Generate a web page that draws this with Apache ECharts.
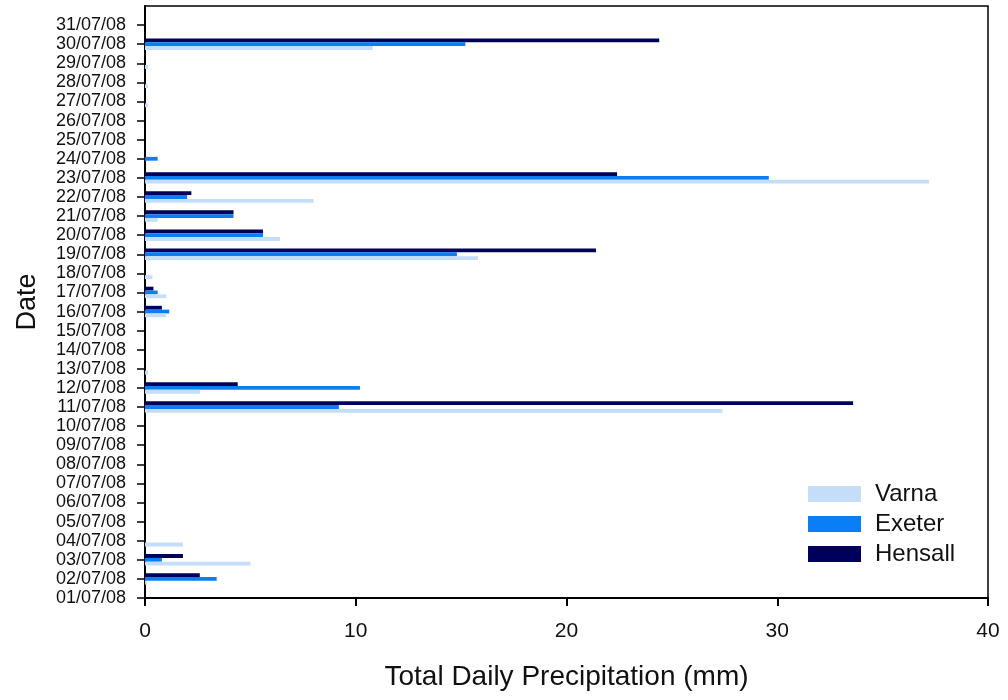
<!DOCTYPE html>
<html>
<head>
<meta charset="utf-8">
<script src="https://cdn.jsdelivr.net/npm/echarts@6/dist/echarts.min.js"></script>
<style>
html,body{margin:0;padding:0;background:#fff;}
#chart{width:1008px;height:700px;}
</style>
</head>
<body>
<div id="chart"></div>
<script>
// Dates 01/07/08 .. 31/07/08 plus one blank slot at the top of the axis
var dates = ['01/07/08','02/07/08','03/07/08','04/07/08','05/07/08','06/07/08','07/07/08','08/07/08','09/07/08','10/07/08',
  '11/07/08','12/07/08','13/07/08','14/07/08','15/07/08','16/07/08','17/07/08','18/07/08','19/07/08','20/07/08',
  '21/07/08','22/07/08','23/07/08','24/07/08','25/07/08','26/07/08','27/07/08','28/07/08','29/07/08','30/07/08','31/07/08',''];

var varna   = [0, 0.1, 5.0, 1.8, 0, 0, 0, 0, 0, 0, 27.4, 2.6, 0.15, 0, 0, 1.0, 1.0, 0.35, 15.8, 6.4, 0.6, 8.0, 37.2, 0, 0, 0, 0.15, 0.15, 0.15, 10.8, 0, null];
var exeter  = [0, 3.4, 0.8, 0, 0, 0, 0, 0, 0, 0, 9.2, 10.2, 0, 0, 0, 1.15, 0.6, 0, 14.8, 5.6, 4.2, 2.0, 29.6, 0.6, 0, 0, 0, 0, 0, 15.2, 0, null];
var hensall = [0, 2.6, 1.8, 0, 0, 0, 0, 0, 0, 0, 33.6, 4.4, 0, 0, 0, 0.8, 0.4, 0, 21.4, 5.6, 4.2, 2.2, 22.4, 0, 0, 0, 0, 0, 0, 24.4, 0, null];

var xTicks = [0, 10, 20, 30, 40];

var colors = { Varna: '#c4ddf8', Exeter: '#0a7ff5', Hensall: '#00005c' };

var chart = echarts.init(document.getElementById('chart'), null, { renderer: 'canvas' });
var font = 'Arial, "Liberation Sans", sans-serif';

function barSeries(name, data) {
  return {
    name: name,
    type: 'bar',
    data: data,
    barGap: '0%',
    barCategoryGap: '40%',
    itemStyle: { color: colors[name] },
    emphasis: { disabled: true }
  };
}

chart.setOption({
  animation: false,
  backgroundColor: '#fff',
  textStyle: { fontFamily: font },
  grid: {
    left: 145, right: 20, top: 6, bottom: 102,
    show: true, borderColor: '#000', borderWidth: 1.5, backgroundColor: 'transparent'
  },
  legend: {
    orient: 'vertical',
    left: 808, top: 482,
    padding: 0,
    itemWidth: 53, itemHeight: 16, itemGap: 6,
    icon: 'rect',
    data: ['Varna', 'Exeter', 'Hensall'],
    textStyle: { fontSize: 24, color: '#111', fontFamily: font, padding: [0, 0, 0, 9] }
  },
  xAxis: {
    type: 'value',
    min: xTicks[0], max: xTicks[xTicks.length - 1], interval: 10,
    name: 'Total Daily Precipitation (mm)',
    nameLocation: 'middle', nameGap: 65,
    nameTextStyle: { fontSize: 28, color: '#111', fontFamily: font },
    axisLine: { show: true, lineStyle: { color: '#000', width: 2 } },
    axisTick: { show: true, inside: false, length: 8, lineStyle: { color: '#000', width: 2 } },
    axisLabel: { fontSize: 21, color: '#111', margin: 23, fontFamily: font },
    splitLine: { show: false }
  },
  yAxis: {
    type: 'category',
    data: dates,
    boundaryGap: false,
    name: 'Date',
    nameLocation: 'middle', nameGap: 104, nameRotate: 90,
    nameTextStyle: { fontSize: 27, color: '#111', fontFamily: font },
    axisLine: { show: true, lineStyle: { color: '#000', width: 2 } },
    axisTick: { show: true, length: 8, interval: function (i) { return i < dates.length - 1; }, lineStyle: { color: '#000', width: 1.5 } },
    axisLabel: { fontSize: 18, color: '#111', margin: 19, fontFamily: font, interval: 0 },
    splitLine: { show: false }
  },
  series: [
    barSeries('Hensall', hensall),
    barSeries('Exeter', exeter),
    barSeries('Varna', varna)
  ]
});
</script>
</body>
</html>
